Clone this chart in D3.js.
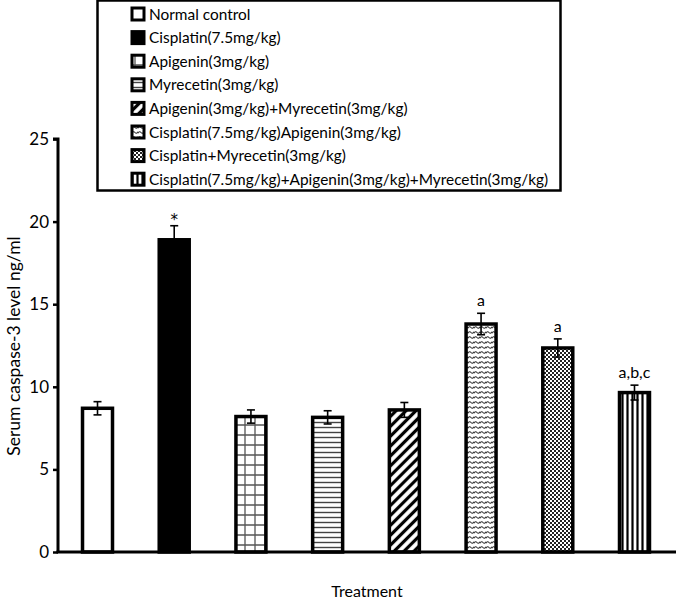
<!DOCTYPE html>
<html><head><meta charset="utf-8">
<script src="https://cdn.jsdelivr.net/npm/d3@7"></script>
<style>html,body{margin:0;padding:0;background:#fff;}svg{display:block;font-family:Lato,"Open Sans",sans-serif;}</style>
</head><body>
<script>
const categories = [
  "Normal control",
  "Cisplatin(7.5mg/kg)",
  "Apigenin(3mg/kg)",
  "Myrecetin(3mg/kg)",
  "Apigenin(3mg/kg)+Myrecetin(3mg/kg)",
  "Cisplatin(7.5mg/kg)Apigenin(3mg/kg)",
  "Cisplatin+Myrecetin(3mg/kg)",
  "Cisplatin(7.5mg/kg)+Apigenin(3mg/kg)+Myrecetin(3mg/kg)"
];
const values = [8.7, 18.9, 8.2, 8.15, 8.6, 13.8, 12.35, 9.65];
const errors = [0.4, 0.85, 0.4, 0.4, 0.45, 0.65, 0.55, 0.45];
const sigLabels = ["", "*", "", "", "", "a", "a", "a,b,c"];
const yTicks = [0, 5, 10, 15, 20, 25];
const fills = ["#fff", "#000", "url(#pGrid)", "url(#pHoriz)", "url(#pDiag)", "url(#pWave)", "url(#pCheck)", "url(#pVert)"];

const W = 676, H = 601;
const svg = d3.select("body").append("svg").attr("width", W).attr("height", H);
const defs = svg.append("defs");

// patterns
const pg = defs.append("pattern").attr("id","pGrid").attr("patternUnits","userSpaceOnUse").attr("width",10).attr("height",10).attr("x",0).attr("y",0);
pg.append("rect").attr("width",10).attr("height",10).attr("fill","#fff");
pg.append("path").attr("d","M5 0V10M0 5H10").attr("stroke","#555").attr("stroke-width",1.3);
const ph = defs.append("pattern").attr("id","pHoriz").attr("patternUnits","userSpaceOnUse").attr("width",10).attr("height",5);
ph.append("rect").attr("width",10).attr("height",5).attr("fill","#fff");
ph.append("path").attr("d","M0 2.5H10").attr("stroke","#444").attr("stroke-width",1.4);
const pd = defs.append("pattern").attr("id","pDiag").attr("patternUnits","userSpaceOnUse").attr("width",7).attr("height",10).attr("patternTransform","rotate(45)");
pd.append("rect").attr("width",7).attr("height",10).attr("fill","#fff");
pd.append("path").attr("d","M3.5 0V10").attr("stroke","#000").attr("stroke-width",3.2);
const pw = defs.append("pattern").attr("id","pWave").attr("patternUnits","userSpaceOnUse").attr("width",6).attr("height",5);
pw.append("rect").attr("width",6).attr("height",5).attr("fill","#fff");
pw.append("path").attr("d","M0 3.2 Q1.5 0.8 3 2.5 T6 1.8").attr("fill","none").attr("stroke","#333").attr("stroke-width",1.1);
const pc = defs.append("pattern").attr("id","pCheck").attr("patternUnits","userSpaceOnUse").attr("width",4).attr("height",4);
pc.append("rect").attr("width",4).attr("height",4).attr("fill","#fff");
pc.append("rect").attr("width",2).attr("height",2).attr("fill","#222");
pc.append("rect").attr("x",2).attr("y",2).attr("width",2).attr("height",2).attr("fill","#222");
const pv = defs.append("pattern").attr("id","pVert").attr("patternUnits","userSpaceOnUse").attr("width",5).attr("height",10);
pv.append("rect").attr("width",5).attr("height",10).attr("fill","#fff");
pv.append("path").attr("d","M2.5 0V10").attr("stroke","#000").attr("stroke-width",2.2);

const x0 = 58, x1 = 674, yBase = 552, yTop = 139;
const x = d3.scaleBand().domain(categories).range([x0, x1]).paddingInner(0.57).paddingOuter(0.3);
const y = d3.scaleLinear().domain([0, 25]).range([yBase, yTop]);

// y axis
const yAxis = svg.append("g").attr("transform", `translate(${x0},0)`)
  .call(d3.axisLeft(y).tickValues(yTicks).tickSize(5).tickPadding(4));
yAxis.select(".domain").attr("stroke","#000").attr("stroke-width",3).attr("d", `M-5,${y(25)}H0V${yBase}`);
yAxis.selectAll(".tick line").attr("stroke","#000").attr("stroke-width",2.5);
yAxis.selectAll(".tick text").attr("font-size",17).attr("font-family","Lato, sans-serif").attr("fill","#000");

// bars
const bars = svg.append("g");
categories.forEach((c, i) => {
  bars.append("rect")
    .attr("x", x(c) + 1.5).attr("y", y(values[i]))
    .attr("width", x.bandwidth() - 3).attr("height", yBase - y(values[i]))
    .attr("fill", fills[i]).attr("stroke", "#000").attr("stroke-width", 3.5);
});

// x axis line
svg.append("line").attr("x1", x0 - 1.5).attr("x2", W).attr("y1", yBase).attr("y2", yBase)
  .attr("stroke","#000").attr("stroke-width",3);

// error bars
const eb = svg.append("g").attr("stroke","#000").attr("stroke-width",1.6);
categories.forEach((c, i) => {
  const cx = x(c) + x.bandwidth() / 2;
  const hi = y(values[i] + errors[i]), lo = y(values[i] - errors[i]);
  eb.append("line").attr("x1",cx).attr("x2",cx).attr("y1",hi).attr("y2",lo);
  eb.append("line").attr("x1",cx-4).attr("x2",cx+4).attr("y1",hi).attr("y2",hi);
  eb.append("line").attr("x1",cx-4).attr("x2",cx+4).attr("y1",lo).attr("y2",lo);
});

// significance labels
categories.forEach((c, i) => {
  if (!sigLabels[i]) return;
  const cx = x(c) + x.bandwidth() / 2;
  const star = sigLabels[i] === "*";
  svg.append("text").attr("x", cx).attr("y", y(values[i] + errors[i]) - (star ? 1 : 7))
    .attr("text-anchor","middle").attr("font-size", star ? 15 : 16)
    .attr("font-family", star ? "DejaVu Sans, sans-serif" : null)
    .attr("fill","#000").text(sigLabels[i]);
});

// axis titles
svg.append("text").attr("transform", `translate(20,346) rotate(-90)`).attr("text-anchor","middle")
  .attr("font-size",17.5).attr("fill","#000").text("Serum caspase-3 level ng/ml");
svg.append("text").attr("x", 367).attr("y", 597).attr("text-anchor","middle")
  .attr("font-size",16).attr("fill","#000").text("Treatment");

// legend
const lg = svg.append("g");
lg.append("rect").attr("x",97.5).attr("y",0.5).attr("width",463).attr("height",190)
  .attr("fill","#fff").attr("stroke","#000").attr("stroke-width",2.5);
categories.forEach((c, i) => {
  const cy = 14 + i * 23.6;
  lg.append("rect").attr("x",132).attr("y",cy-6).attr("width",12).attr("height",12)
    .attr("fill", fills[i]).attr("stroke","#000").attr("stroke-width",3);
  lg.append("text").attr("x",149).attr("y",cy+5.5).attr("font-size",15.4).attr("fill","#000").text(c);
});
</script>
</body></html>
